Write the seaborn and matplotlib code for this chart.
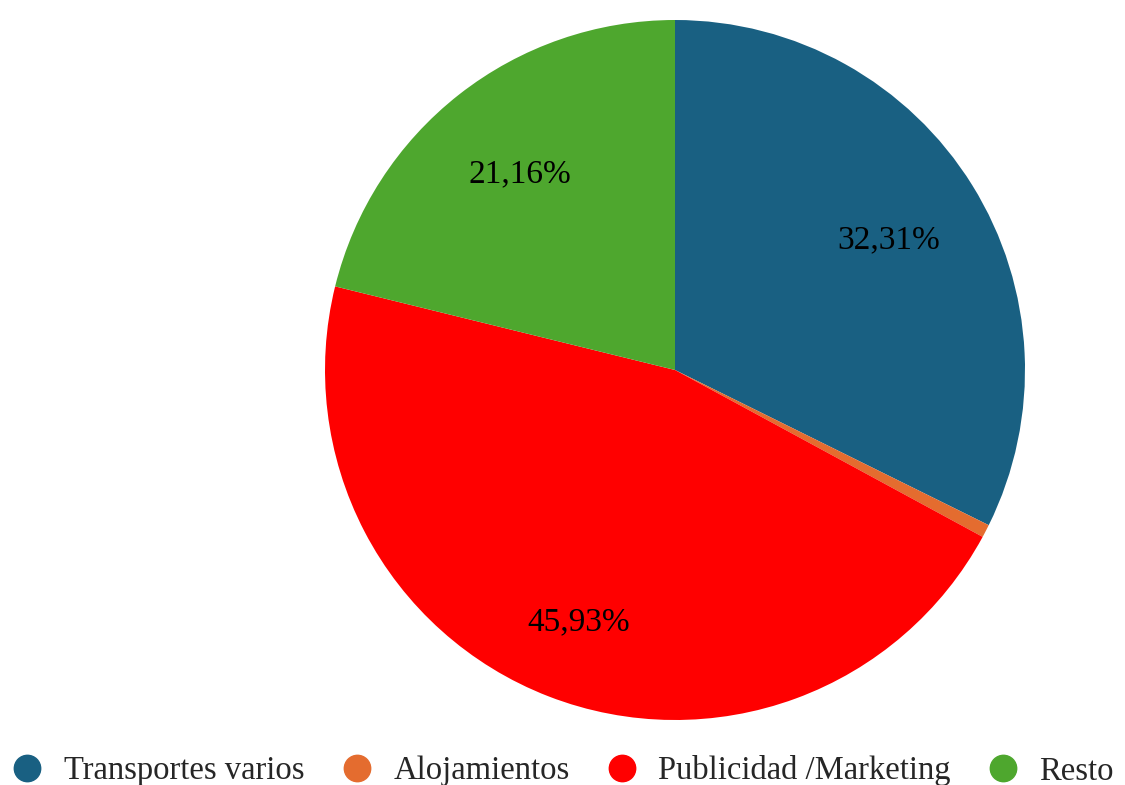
import matplotlib
matplotlib.use("Agg")
import numpy as np
import matplotlib.pyplot as plt
from matplotlib.lines import Line2D
import seaborn as sns

categories = ["Transportes varios", "Alojamientos", "Publicidad /Marketing", "Resto"]
values = [32.31, 0.60, 45.93, 21.16]
colors = ["#196082", "#e46c2f", "#ff0000", "#4ea72e"]

sns.set_theme(style="white")
plt.rcParams["font.family"] = ["Liberation Serif", "DejaVu Serif"]

fig = plt.figure(figsize=(11.25, 7.85), dpi=100)
ax = fig.add_axes([325/1125, 65/785, 700/1125, 700/785])

def fmt(p):
    return ("%.2f%%" % p).replace(".", ",") if p > 2 else ""

wedges, texts, autotexts = ax.pie(values, colors=colors, startangle=90, counterclock=False,
                                  autopct=fmt, pctdistance=0.72, radius=1.0,
                                  wedgeprops=dict(linewidth=0),
                                  textprops=dict(fontsize=24, color="black"))
# largest slice label sits a bit further out
big = int(np.argmax(values))
w = wedges[big]
mid = np.deg2rad((w.theta1 + w.theta2) / 2)
autotexts[big].set_position((0.765 * np.cos(mid), 0.765 * np.sin(mid)))
for t in autotexts:
    x, y = t.get_position()
    t.set_position((x, y - 0.008))

ax.set_xlim(-1, 1)
ax.set_ylim(-1, 1)
ax.set_aspect("equal")
ax.axis("off")

handles = [Line2D([0], [0], marker="o", linestyle="", markersize=19,
                  markerfacecolor=c, markeredgecolor=c) for c in colors]
fig.legend(handles, categories, loc="center", bbox_to_anchor=(0.5, 14/785), ncol=4,
           frameon=False, fontsize=23.5, handletextpad=0.62, columnspacing=1.1,
           handlelength=1.0, borderaxespad=0, borderpad=0)

fig.savefig("out.png", dpi=100)
